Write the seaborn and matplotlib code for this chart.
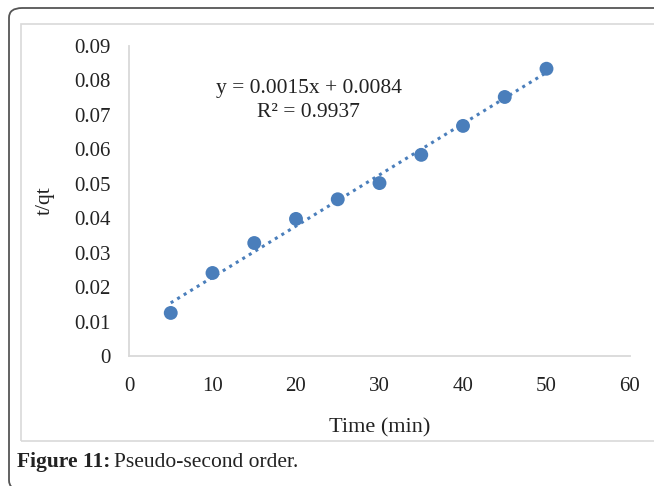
import matplotlib
matplotlib.use("Agg")
import matplotlib.pyplot as plt
import seaborn as sns
import numpy as np
import pandas as pd
from matplotlib.patches import FancyBboxPatch, Rectangle

# Data
time_min = [5, 10, 15, 20, 25, 30, 35, 40, 45, 50]
t_qt = [0.0125, 0.0241, 0.0328, 0.0398, 0.0455, 0.0502, 0.0584, 0.0668, 0.0752, 0.0834]
x_ticks = [0, 10, 20, 30, 40, 50, 60]
y_ticks = [0, 0.01, 0.02, 0.03, 0.04, 0.05, 0.06, 0.07, 0.08, 0.09]
y_tick_labels = ["0", "0.01", "0.02", "0.03", "0.04", "0.05", "0.06", "0.07", "0.08", "0.09"]
eq_text = "y = 0.0015x + 0.0084"
r2_text = "R² = 0.9937"

df = pd.DataFrame({"Time (min)": time_min, "t/qt": t_qt})

sns.set_theme(style="white")
plt.rcParams["font.family"] = ["Liberation Serif", "DejaVu Serif"]

W, H = 654, 486
fig = plt.figure(figsize=(W / 100, H / 100), dpi=100)

def fx(px):
    return px / W

def fy(py):
    return 1 - py / H

# outer rounded frame
outer = FancyBboxPatch((fx(9), fy(490)), fx(700), fy(8) - fy(490),
                       boxstyle="round,pad=0,rounding_size=0.02",
                       transform=fig.transFigure, fill=False,
                       edgecolor="#555555", linewidth=1.3, zorder=0)
fig.patches.append(outer)
# inner chart border
inner = Rectangle((fx(21), fy(441)), fx(700), fy(24) - fy(441),
                  transform=fig.transFigure, fill=False,
                  edgecolor="#d9d9d9", linewidth=1.2, zorder=0)
fig.patches.append(inner)

ax = fig.add_axes([fx(129), fy(356), fx(630) - fx(129), fy(46) - fy(356)])
ax.set_facecolor("none")

blue = "#4a7ebb"
sns.regplot(data=df, x="Time (min)", y="t/qt", ax=ax, ci=None, truncate=True,
            scatter_kws=dict(s=100, color=blue, edgecolor="none", alpha=1, zorder=3),
            line_kws=dict(color=blue, linestyle=(0, (1, 1.5)), linewidth=2.2, zorder=2))

ax.set_xlim(0, 60)
ax.set_ylim(0, 0.09)
ax.set_xticks(x_ticks)
ax.set_xticklabels([str(v) for v in x_ticks])
ax.set_yticks(y_ticks)
ax.set_yticklabels(y_tick_labels)
ax.tick_params(axis="both", length=0, labelsize=15, colors="#222222")
ax.tick_params(axis="y", pad=13)
ax.tick_params(axis="x", pad=15)

for s in ["top", "right"]:
    ax.spines[s].set_visible(False)
for s in ["left", "bottom"]:
    ax.spines[s].set_color("#d9d9d9")
    ax.spines[s].set_linewidth(1.3)

ax.set_xlabel("Time (min)", fontsize=16, color="#222222", labelpad=16)
ax.set_ylabel("t/qt", fontsize=15.5, color="#222222", labelpad=14)

ax.text(21.5, 0.0778, eq_text, ha="center", va="center", fontsize=15.5, color="#222222")
ax.text(21.5, 0.0706, r2_text, ha="center", va="center", fontsize=15.5, color="#222222")

fig.text(fx(17), fy(462), "Figure 11:", fontsize=15.5, fontweight="bold",
         ha="left", va="center", color="#222222")
fig.text(fx(114), fy(462), "Pseudo-second order.", fontsize=15.5,
         ha="left", va="center", color="#222222")

fig.savefig("out.png", dpi=100)
